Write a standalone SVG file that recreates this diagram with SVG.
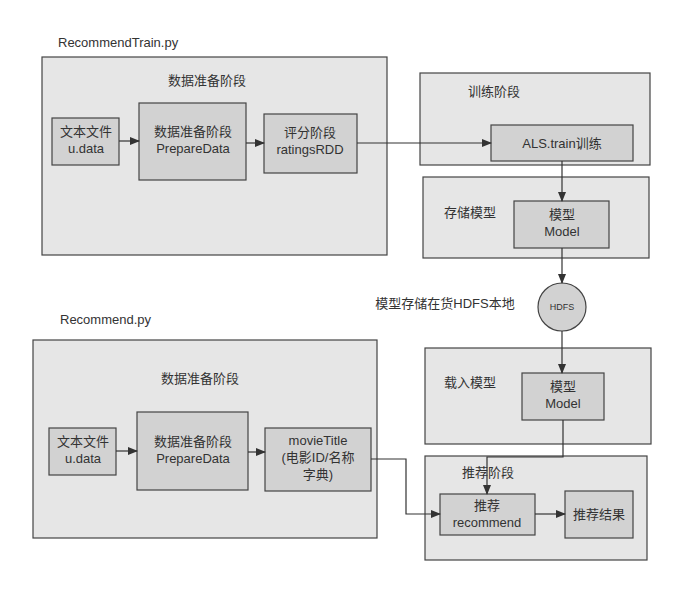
<svg xmlns="http://www.w3.org/2000/svg" width="692" height="603" viewBox="0 0 692 603">
<style>
text{font-family:"Liberation Sans","Noto Sans CJK SC",sans-serif;font-size:13px;fill:#333;text-anchor:middle}
.l{text-anchor:start}
.o{fill:#e6e6e6;stroke:#444;stroke-width:1.2}
.i{fill:#d2d2d2;stroke:#444;stroke-width:1.2}
.c{fill:none;stroke:#333;stroke-width:1.2}
</style>
<defs><marker id="a" markerWidth="10" markerHeight="8" refX="9" refY="4" orient="auto" markerUnits="userSpaceOnUse"><path d="M0,0L10,4L0,8z" fill="#333"/></marker></defs>
<rect width="692" height="603" fill="#fff"/>
<text class="l" x="58" y="47">RecommendTrain.py</text>
<text class="l" x="60" y="324">Recommend.py</text>
<g id="g1"><rect class="o" x="42" y="57" width="345" height="198"/><text x="207" y="85">数据准备阶段</text></g>
<g id="n1"><rect class="i" x="52" y="118" width="67" height="47"/><text x="86" y="136">文本文件</text><text x="86" y="153">u.data</text></g>
<g id="n2"><rect class="i" x="139" y="103" width="107" height="77"/><text x="193" y="136">数据准备阶段</text><text x="193" y="153">PrepareData</text></g>
<g id="n3"><rect class="i" x="264" y="114" width="93" height="59"/><text x="310" y="137">评分阶段</text><text x="310" y="154">ratingsRDD</text></g>
<g id="g2"><rect class="o" x="420" y="73" width="230" height="92"/><text x="494" y="96">训练阶段</text></g>
<g id="n4"><rect class="i" x="491" y="125" width="142" height="36"/><text x="562" y="148">ALS.train训练</text></g>
<g id="g3"><rect class="o" x="423" y="177" width="226" height="81"/><text x="470" y="217">存储模型</text></g>
<g id="n5"><rect class="i" x="514" y="201" width="95" height="47"/><text x="562" y="219">模型</text><text x="562" y="236">Model</text></g>
<g id="hdfs"><circle cx="562" cy="307" r="24" fill="#d2d2d2" stroke="#444" stroke-width="1.2"/><text x="562" y="310" style="font-size:9px">HDFS</text></g>
<text x="445" y="308">模型存储在货HDFS本地</text>
<g id="g4"><rect class="o" x="33" y="340" width="344" height="198"/><text x="200" y="383">数据准备阶段</text></g>
<g id="n6"><rect class="i" x="49" y="428" width="67" height="47"/><text x="83" y="446">文本文件</text><text x="83" y="463">u.data</text></g>
<g id="n7"><rect class="i" x="137" y="412" width="111" height="78"/><text x="193" y="446">数据准备阶段</text><text x="193" y="463">PrepareData</text></g>
<g id="n8"><rect class="i" x="265" y="428" width="106" height="63"/><text x="318" y="445">movieTitle</text><text x="318" y="462">(电影ID/名称</text><text x="318" y="479">字典)</text></g>
<g id="g5"><rect class="o" x="425" y="348" width="226" height="96"/><text x="470" y="387">载入模型</text></g>
<g id="n9"><rect class="i" x="522" y="373" width="82" height="47"/><text x="563" y="391">模型</text><text x="563" y="408">Model</text></g>
<g id="g6"><rect class="o" x="425" y="456" width="222" height="104"/><text x="488" y="477">推荐阶段</text></g>
<g id="n10"><rect class="i" x="440" y="494" width="95" height="41"/><text x="487" y="510">推荐</text><text x="487" y="527">recommend</text></g>
<g id="n11"><rect class="i" x="565" y="491" width="68" height="47"/><text x="599" y="519">推荐结果</text></g>
<g id="edges">
<path class="c" d="M119,141H139" marker-end="url(#a)"/>
<path class="c" d="M246,143H264" marker-end="url(#a)"/>
<path class="c" d="M357,143H491" marker-end="url(#a)"/>
<path class="c" d="M562,161V201" marker-end="url(#a)"/>
<path class="c" d="M562,248V283" marker-end="url(#a)"/>
<path class="c" d="M562,331V373" marker-end="url(#a)"/>
<path class="c" d="M116,451H137" marker-end="url(#a)"/>
<path class="c" d="M248,452H265" marker-end="url(#a)"/>
<path class="c" d="M371,459H406V514H440" marker-end="url(#a)"/>
<path class="c" d="M563,420V457H487V494" marker-end="url(#a)"/>
<path class="c" d="M535,514H565" marker-end="url(#a)"/>
</g>
</svg>
